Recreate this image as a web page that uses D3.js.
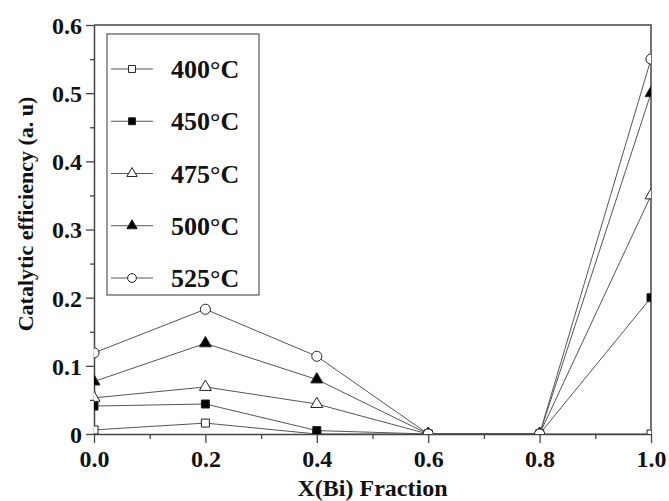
<!DOCTYPE html>
<html>
<head>
<meta charset="utf-8">
<script src="https://cdn.jsdelivr.net/npm/d3@7"></script>
<style>
  body { margin: 0; background: #fff; }
  text { font-family: "Liberation Serif", "Times New Roman", serif; font-weight: bold; fill: #111; }
</style>
</head>
<body>
<svg id="chart" width="669" height="501"></svg>
<script>
// data
var xFraction = [0, 0.2, 0.4, 0.6, 0.8, 1.0];
var temps = ['400°C', '450°C', '475°C', '500°C', '525°C'];
var eff400 = [0.006, 0.016, 0.000, 0, 0, 0];
var eff450 = [0.041, 0.044, 0.005, 0, 0, 0.20];
var eff475 = [0.053, 0.069, 0.044, 0, 0, 0.35];
var eff500 = [0.077, 0.133, 0.080, 0, 0, 0.50];
var eff525 = [0.119, 0.183, 0.114, 0, 0, 0.55];
var xTicks = [0, 0.2, 0.4, 0.6, 0.8, 1.0];
var yTicks = [0, 0.1, 0.2, 0.3, 0.4, 0.5, 0.6];

var series = [
    { name: temps[0], values: eff400, type: d3.symbolSquare, fill: '#fff' },
    { name: temps[1], values: eff450, type: d3.symbolSquare, fill: '#000' },
    { name: temps[2], values: eff475, type: d3.symbolTriangle, fill: '#fff' },
    { name: temps[3], values: eff500, type: d3.symbolTriangle, fill: '#000' },
    { name: temps[4], values: eff525, type: d3.symbolCircle, fill: '#fff' }
];

var svg = d3.select('#chart');
var plotL = 94, plotR = 651, plotT = 25, plotB = 434;

var x = d3.scaleLinear().domain([0, 1]).range([plotL, plotR]);
var y = d3.scaleLinear().domain([0, 0.6]).range([plotB, plotT]);

function symSize(type) {
    if (type === d3.symbolSquare) return 64;
    if (type === d3.symbolTriangle) return 62;
    return 80;
}

// frame (top + right)
svg.append('path')
    .attr('d', 'M' + plotL + ',' + plotT + 'H' + plotR + 'V' + plotB)
    .attr('fill', 'none').attr('stroke', '#444').attr('stroke-width', 1.5);

// minor ticks
svg.append('g').attr('transform', 'translate(0,' + plotB + ')')
    .call(d3.axisBottom(x).tickValues(d3.range(0.1, 1, 0.2)).tickSize(5).tickFormat(''))
    .call(function (g) { g.select('.domain').remove(); g.selectAll('line').attr('stroke', '#444').attr('stroke-width', 1.3); });
svg.append('g').attr('transform', 'translate(' + plotL + ',0)')
    .call(d3.axisLeft(y).tickValues(d3.range(0.05, 0.6, 0.1)).tickSize(4).tickFormat(''))
    .call(function (g) { g.select('.domain').remove(); g.selectAll('line').attr('stroke', '#444').attr('stroke-width', 1.3); });

// major axes
var xAxis = svg.append('g').attr('transform', 'translate(0,' + plotB + ')')
    .call(d3.axisBottom(x).tickValues(xTicks).tickSize(9).tickSizeOuter(0).tickPadding(6)
        .tickFormat(d3.format('.1f')));
var yAxis = svg.append('g').attr('transform', 'translate(' + plotL + ',0)')
    .call(d3.axisLeft(y).tickValues(yTicks).tickSize(8).tickSizeOuter(0).tickPadding(4)
        .tickFormat(function (d) { return d === 0 ? '0' : d3.format('.1f')(d); }));

[xAxis, yAxis].forEach(function (g) {
    g.select('.domain').attr('stroke', '#444').attr('stroke-width', 1.5);
    g.selectAll('line').attr('stroke', '#444').attr('stroke-width', 1.3);
    g.selectAll('text').attr('font-size', 24).attr('fill', '#111')
        .style('font-family', '"Liberation Serif", serif').style('font-weight', 'bold');
});
xAxis.selectAll('text').attr('dy', '0.75em');
yAxis.selectAll('text').attr('dy', '0.35em');

// clip area for the data
svg.append('clipPath').attr('id', 'plotClip')
    .append('rect').attr('x', plotL).attr('y', plotT).attr('width', plotR - plotL).attr('height', plotB - plotT);

var plot = svg.append('g').attr('clip-path', 'url(#plotClip)');
var line = d3.line().x(function (d, i) { return x(xFraction[i]); }).y(function (d) { return y(d); });

series.forEach(function (s) {
    plot.append('path')
        .datum(s.values)
        .attr('d', line)
        .attr('fill', 'none').attr('stroke', '#555').attr('stroke-width', 1);
});

series.forEach(function (s) {
    plot.selectAll(null)
        .data(s.values)
        .enter()
        .append('path')
        .attr('d', d3.symbol().type(s.type).size(symSize(s.type)))
        .attr('transform', function (d, i) { return 'translate(' + x(xFraction[i]) + ',' + y(d) + ')'; })
        .attr('fill', s.fill).attr('stroke', '#222').attr('stroke-width', 1);
});

// legend
var legend = svg.append('g');
legend.append('rect')
    .attr('x', 107).attr('y', 34).attr('width', 152).attr('height', 261)
    .attr('fill', '#fff').attr('stroke', '#555').attr('stroke-width', 1.2);

var ly = d3.scalePoint().domain(temps).range([69, 278]);
series.forEach(function (s) {
    var yy = ly(s.name);
    legend.append('line')
        .attr('x1', 111).attr('x2', 153).attr('y1', yy).attr('y2', yy)
        .attr('stroke', '#555').attr('stroke-width', 1);
    legend.append('path')
        .attr('d', d3.symbol().type(s.type).size(symSize(s.type) * 0.75))
        .attr('transform', 'translate(132,' + yy + ')')
        .attr('fill', s.fill).attr('stroke', '#222').attr('stroke-width', 1);
    legend.append('text')
        .attr('x', 171).attr('y', yy).attr('dy', '0.35em')
        .attr('font-size', 26)
        .text(s.name);
});

// axis titles
svg.append('text')
    .attr('x', (plotL + plotR) / 2).attr('y', 496)
    .attr('text-anchor', 'middle').attr('font-size', 24)
    .text('X(Bi) Fraction');

svg.append('text')
    .attr('transform', 'translate(33,' + 214 + ') rotate(-90)')
    .attr('text-anchor', 'middle').attr('font-size', 22)
    .text('Catalytic efficiency (a. u)');
</script>
</body>
</html>
